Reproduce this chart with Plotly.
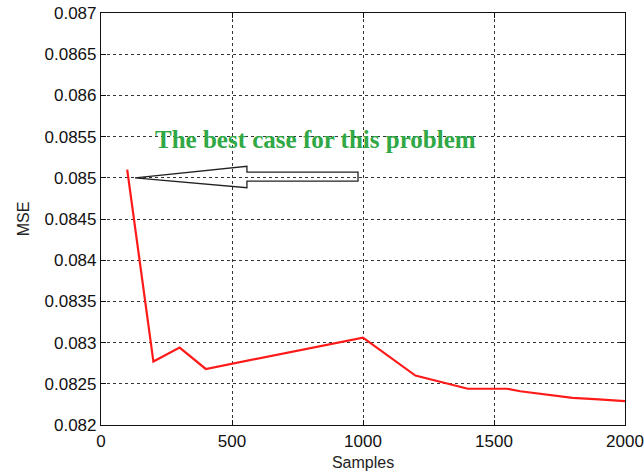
import plotly.graph_objects as go

# MSE versus number of samples
samples = [100, 200, 300, 400, 1000, 1200, 1400, 1550, 1600, 1800, 1900, 2000]
mse = [0.08510, 0.08277, 0.08294, 0.08268, 0.08306, 0.08260, 0.08244, 0.08244, 0.08241, 0.08233, 0.08231, 0.08229]

y_ticks = [0.082, 0.0825, 0.083, 0.0835, 0.084, 0.0845, 0.085, 0.0855, 0.086, 0.0865, 0.087]
y_labels = ["0.082", "0.0825", "0.083", "0.0835", "0.084", "0.0845", "0.085", "0.0855", "0.086", "0.0865", "0.087"]
x_ticks = [0, 500, 1000, 1500, 2000]

note = "The best case for this problem"

fig = go.Figure()
fig.add_trace(go.Scatter(
    x=samples, y=mse, mode="lines",
    line=dict(color="#ff1a1a", width=2.2),
    showlegend=False, hoverinfo="skip",
))

# hollow block arrow pointing at the first point
ax_tip, ay = 130, 0.08500
ax_head, ax_tail = 557, 981
head_hi, head_lo = 0.08514, 0.08488
shaft_hi, shaft_lo = 0.08507, 0.08496
path = (f"M {ax_tip},{ay} L {ax_head},{head_hi} L {ax_head},{shaft_hi} "
        f"L {ax_tail},{shaft_hi} L {ax_tail},{shaft_lo} L {ax_head},{shaft_lo} "
        f"L {ax_head},{head_lo} Z")
fig.add_shape(type="path", path=path, xref="x", yref="y",
              line=dict(color="#222222", width=1.3), fillcolor="rgba(255,255,255,0)")

fig.add_annotation(
    x=817, y=0.08546, xref="x", yref="y", text=note, showarrow=False,
    font=dict(family="Liberation Serif, Times New Roman, serif", size=25, color="#30a845", weight="bold"),
)

sans = "Liberation Sans, Arial, sans-serif"
axis_font = dict(family=sans, size=17, color="#111111")
title_font = dict(family=sans, size=16, color="#222222")

fig.update_xaxes(
    range=[0, 2000], tickvals=x_ticks, ticks="inside", ticklen=5, tickcolor="#111",
    showline=True, linecolor="#111", linewidth=1.2, mirror="ticks",
    showgrid=True, gridcolor="#333", griddash="3px,3px", gridwidth=1,
    zeroline=False, tickfont=axis_font, automargin=False,
    title=dict(text="Samples", font=title_font, standoff=7),
)
fig.update_yaxes(
    range=[0.082, 0.087], tickvals=y_ticks, ticktext=y_labels, ticks="inside", ticklen=5, tickcolor="#111",
    showline=True, linecolor="#111", linewidth=1.2, mirror="ticks",
    showgrid=True, gridcolor="#333", griddash="3px,3px", gridwidth=1,
    zeroline=False, tickfont=axis_font, automargin=False,
    title=dict(text="MSE", font=title_font, standoff=10),
)

fig.update_layout(
    width=644, height=474,
    margin=dict(l=101, r=19, t=13, b=49),
    paper_bgcolor="white", plot_bgcolor="white",
)

fig.write_html("out.html")
